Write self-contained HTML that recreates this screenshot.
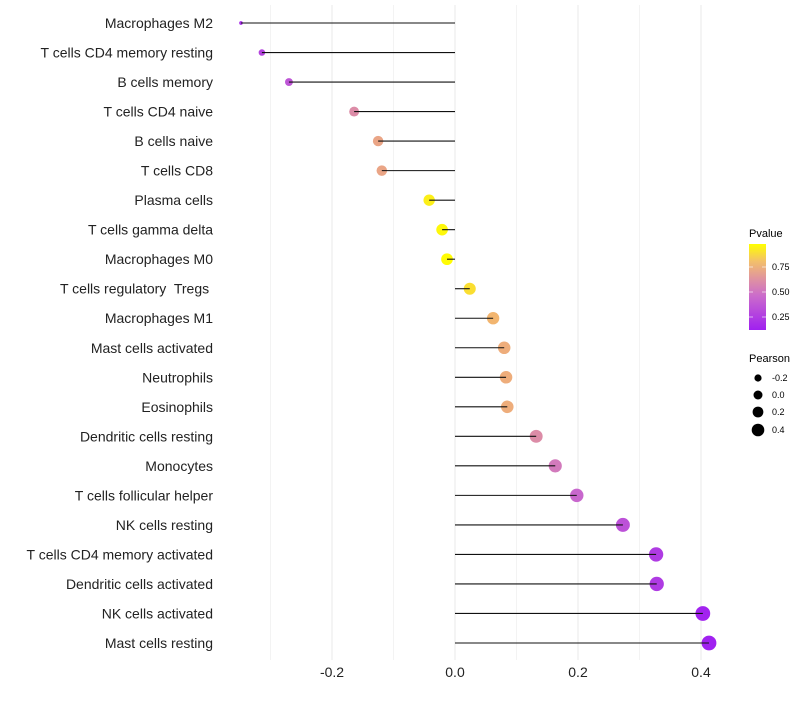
<!DOCTYPE html>
<html><head><meta charset="utf-8"><style>
body{margin:0;background:#fff;font-family:"Liberation Sans",sans-serif}
text{white-space:pre}
</style></head><body>
<svg id="chart" width="800" height="700" xmlns="http://www.w3.org/2000/svg" font-family="Liberation Sans, sans-serif">
<defs><linearGradient id="pg" x1="0" y1="1" x2="0" y2="0">
<stop offset="0" stop-color="#A020F0"/><stop offset="0.4" stop-color="#CB6CCB"/><stop offset="0.6" stop-color="#E0949F"/><stop offset="0.8" stop-color="#F3C06A"/><stop offset="1" stop-color="#FFFF00"/></linearGradient></defs>
<g id="grid"></g><g id="marks"></g>
<g>
<text x="749" y="237" font-size="11">Pvalue</text>
<rect x="749" y="244" width="17" height="86" fill="url(#pg)"/>
<line x1="749" x2="753" y1="267" y2="267" stroke="#fff" opacity="0.6"/><line x1="762" x2="766" y1="267" y2="267" stroke="#fff" opacity="0.6"/>
<line x1="749" x2="753" y1="292" y2="292" stroke="#fff" opacity="0.6"/><line x1="762" x2="766" y1="292" y2="292" stroke="#fff" opacity="0.6"/>
<line x1="749" x2="753" y1="317" y2="317" stroke="#fff" opacity="0.6"/><line x1="762" x2="766" y1="317" y2="317" stroke="#fff" opacity="0.6"/>
<text x="772" y="270" font-size="9">0.75</text><text x="772" y="295" font-size="9">0.50</text><text x="772" y="320" font-size="9">0.25</text>
<text x="749" y="362" font-size="11">Pearson</text>
<circle cx="758" cy="378" r="3.6"/><circle cx="758" cy="395" r="4.5"/><circle cx="758" cy="412" r="5.4"/><circle cx="758" cy="430" r="6.3"/>
<text x="772" y="381" font-size="9">-0.2</text><text x="772" y="398" font-size="9">0.0</text><text x="772" y="415" font-size="9">0.2</text><text x="772" y="433" font-size="9">0.4</text>
</g>
</svg>
<script>
const cells=["Macrophages M2","T cells CD4 memory resting","B cells memory","T cells CD4 naive","B cells naive","T cells CD8","Plasma cells","T cells gamma delta","Macrophages M0","T cells regulatory  Tregs ","Macrophages M1","Mast cells activated","Neutrophils","Eosinophils","Dendritic cells resting","Monocytes","T cells follicular helper","NK cells resting","T cells CD4 memory activated","Dendritic cells activated","NK cells activated","Mast cells resting"];
const pearson=[-0.348,-0.314,-0.270,-0.164,-0.125,-0.119,-0.042,-0.021,-0.013,0.024,0.062,0.080,0.083,0.085,0.132,0.163,0.198,0.273,0.327,0.328,0.403,0.413];
const pvalue=[0.18,0.28,0.36,0.6,0.72,0.72,0.94,0.96,0.97,0.9,0.8,0.76,0.76,0.76,0.6,0.52,0.44,0.34,0.24,0.24,0.13,0.12];
const xTicks=[-0.2,0.0,0.2,0.4];
const xTickLabels=["-0.2","0.0","0.2","0.4"];
const NS="http://www.w3.org/2000/svg";
const x=v=>455+v*615;
const y=i=>23+i*(620/21);
const rad=v=>{const t=Math.max(0,(v+0.348)/0.761);return Math.sqrt(2+47*Math.pow(t,0.65))+0.4;};
const stops=[[0,[160,32,240]],[0.4,[203,108,203]],[0.6,[224,148,159]],[0.8,[243,182,110]],[1,[255,255,0]]];
function col(p){let t=(p-0.117)/(0.977-0.117);t=Math.max(0,Math.min(1,t));
for(let k=1;k<stops.length;k++){if(t<=stops[k][0]){const a=stops[k-1],b=stops[k],f=(t-a[0])/(b[0]-a[0]);
return "rgb("+a[1].map((c,j)=>Math.round(c+(b[1][j]-c)*f)).join(",")+")";}}return "rgb(255,255,0)";}
function mk(t,at,par){const e=document.createElementNS(NS,t);for(const k in at)e.setAttribute(k,at[k]);par.appendChild(e);return e;}
const grid=document.getElementById('grid'),marks=document.getElementById('marks');
[-0.3,-0.1,0.1,0.3].forEach(v=>mk('line',{x1:x(v),x2:x(v),y1:5,y2:660,stroke:'#f0f0f0','stroke-width':0.8},grid));
xTicks.forEach((v,i)=>{mk('line',{x1:x(v),x2:x(v),y1:5,y2:660,stroke:'#ebebeb','stroke-width':1.1},grid);
const t=mk('text',{x:x(v),y:677,'font-size':14,'text-anchor':'middle',fill:'#222'},grid);t.textContent=xTickLabels[i];

});
cells.forEach((c,i)=>{
const t=mk('text',{x:213,y:y(i)+5,'font-size':14,'text-anchor':'end',fill:'#222'},marks);t.textContent=c;


const p=mk('circle',{cx:x(pearson[i]),cy:y(i),r:rad(pearson[i]),fill:col(pvalue[i])},marks);


const l=mk('line',{x1:x(0),x2:x(pearson[i]),y1:y(i),y2:y(i),stroke:'#111','stroke-width':1.1},marks);

});
</script>
</body></html>
